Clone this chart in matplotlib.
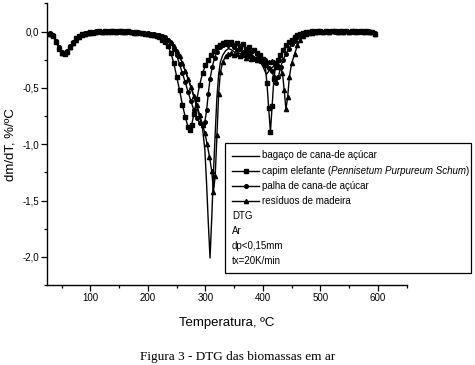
import matplotlib
matplotlib.use('Agg')
import matplotlib.pyplot as plt
from matplotlib.lines import Line2D
from matplotlib.patches import Rectangle
from matplotlib.ticker import MultipleLocator, FuncFormatter

plt.rcParams['font.family'] = ['Liberation Sans', 'DejaVu Sans']

# temperature grids shared by the flat parts of the curves (ºC)
t_start = [30, 35, 40, 45, 50, 55, 60, 65, 70, 75, 80, 85, 90, 95, 100, 105, 110, 115, 120,
           125, 130, 135, 140, 145, 150, 155, 160, 165, 170, 175, 180, 185, 190, 195, 200,
           205, 210, 215]
t_tail = [480, 485, 490, 495, 500, 505, 510, 515, 520, 525, 530, 535, 540, 545, 550, 555,
          560, 565, 570, 575, 580, 585, 590, 595]

# bagaço de cana-de açúcar
bagaco_start = [-0.01, -0.03, -0.07, -0.13, -0.18, -0.19, -0.17, -0.13, -0.10, -0.07, -0.04,
                -0.03, -0.02, -0.01, -0.01, 0.00, 0.00, 0.00, 0.01, 0.00, 0.01, 0.01, 0.00,
                0.01, 0.01, 0.00, 0.01, 0.00, 0.00, 0.00, 0.00, -0.01, -0.01, -0.01, -0.02,
                -0.02, -0.02, -0.03]
bagaco_mid_t = [220, 225, 230, 235, 240, 245, 250, 255, 260, 265, 270, 275, 280, 285, 290,
                295, 299, 302, 305, 308, 311, 314, 317, 320, 323, 326, 330, 335, 340, 345,
                350, 355, 360, 365, 370, 375, 380, 385, 390, 395, 400, 406, 412, 418, 424,
                430, 435, 440, 445, 450, 455, 460, 465, 470, 475]
bagaco_mid = [-0.03, -0.04, -0.05, -0.07, -0.09, -0.13, -0.17, -0.22, -0.28, -0.35, -0.42,
              -0.50, -0.58, -0.67, -0.76, -0.86, -1.05, -1.35, -1.70, -2.01, -1.65, -1.25,
              -0.90, -0.58, -0.38, -0.27, -0.21, -0.17, -0.15, -0.16, -0.18, -0.20, -0.19,
              -0.21, -0.20, -0.22, -0.21, -0.23, -0.24, -0.27, -0.31, -0.38, -0.34, -0.31,
              -0.27, -0.22, -0.18, -0.14, -0.11, -0.08, -0.06, -0.04, -0.03, -0.02, -0.01]
bagaco_tail = [0.00, 0.00, 0.01, 0.00, 0.01, 0.00, 0.01, 0.01, 0.00, 0.01, 0.00, 0.01, 0.01,
               0.00, 0.01, 0.00, 0.01, 0.00, 0.01, 0.00, 0.00, 0.01, 0.00, -0.01]

# capim elefante
capim_start = [-0.02, -0.04, -0.09, -0.15, -0.19, -0.20, -0.18, -0.14, -0.10, -0.06, -0.04,
               -0.02, -0.02, -0.01, 0.00, -0.01, 0.00, 0.01, 0.00, 0.01, 0.00, 0.01, 0.01,
               0.00, 0.01, 0.01, 0.00, 0.01, 0.00, -0.01, 0.00, -0.01, -0.01, -0.02, -0.02,
               -0.03, -0.03, -0.04]
capim_mid_t = [220, 225, 230, 235, 240, 245, 250, 255, 260, 265, 270, 273, 276, 280, 285,
               290, 295, 300, 305, 310, 315, 320, 325, 330, 335, 340, 345, 350, 355, 360,
               365, 370, 375, 380, 385, 390, 395, 400, 404, 407, 410, 413, 416, 419, 422,
               426, 430, 435, 440, 445, 450, 455, 460, 465, 470, 475]
capim_mid = [-0.05, -0.07, -0.09, -0.13, -0.19, -0.28, -0.40, -0.52, -0.65, -0.76, -0.85,
             -0.87, -0.83, -0.73, -0.60, -0.47, -0.37, -0.30, -0.25, -0.21, -0.17, -0.14,
             -0.12, -0.10, -0.09, -0.10, -0.09, -0.12, -0.10, -0.13, -0.11, -0.15, -0.14,
             -0.17, -0.16, -0.19, -0.21, -0.24, -0.30, -0.46, -0.68, -0.89, -0.66, -0.42,
             -0.31, -0.25, -0.21, -0.16, -0.12, -0.09, -0.07, -0.05, -0.03, -0.02, -0.01,
             0.00]
capim_tail = [0.00, 0.01, 0.00, 0.01, 0.01, 0.00, 0.01, 0.00, 0.01, 0.01, 0.00, 0.01, 0.00,
              0.01, 0.00, 0.01, 0.01, 0.00, 0.01, 0.00, 0.01, 0.00, 0.00, -0.02]

# palha de cana-de açúcar
palha_start = [-0.01, -0.03, -0.08, -0.14, -0.18, -0.20, -0.17, -0.13, -0.09, -0.06, -0.04,
               -0.03, -0.01, -0.01, 0.00, 0.00, 0.01, 0.00, 0.00, 0.01, 0.01, 0.00, 0.01,
               0.01, 0.00, 0.01, 0.01, 0.00, 0.00, 0.00, -0.01, -0.01, -0.01, -0.02, -0.01,
               -0.02, -0.02, -0.03]
palha_mid_t = [220, 225, 230, 235, 240, 245, 250, 255, 260, 265, 270, 275, 280, 285, 290,
               295, 299, 302, 305, 308, 312, 316, 320, 325, 330, 335, 340, 345, 350, 355,
               360, 365, 370, 375, 380, 385, 390, 395, 400, 405, 410, 415, 419, 423, 427,
               431, 435, 440, 445, 450, 455, 460, 465, 470, 475]
palha_mid = [-0.03, -0.04, -0.05, -0.07, -0.10, -0.15, -0.21, -0.29, -0.37, -0.45, -0.54,
             -0.62, -0.70, -0.77, -0.81, -0.83, -0.80, -0.70, -0.55, -0.42, -0.31, -0.23,
             -0.18, -0.14, -0.12, -0.11, -0.12, -0.11, -0.14, -0.16, -0.15, -0.18, -0.20,
             -0.19, -0.22, -0.24, -0.23, -0.26, -0.27, -0.29, -0.32, -0.35, -0.40, -0.46,
             -0.40, -0.31, -0.25, -0.20, -0.15, -0.11, -0.08, -0.05, -0.03, -0.02, -0.01]
palha_tail = [0.00, 0.01, 0.01, 0.00, 0.01, 0.00, 0.00, 0.01, 0.01, 0.00, 0.01, 0.00, 0.01,
              0.01, 0.00, 0.00, 0.01, 0.01, 0.00, 0.01, 0.00, 0.01, 0.00, -0.01]

# resíduos de madeira
residuos_start = [-0.02, -0.03, -0.08, -0.14, -0.19, -0.19, -0.17, -0.14, -0.10, -0.07, -0.05,
                  -0.03, -0.02, -0.01, -0.01, 0.00, 0.00, 0.01, 0.00, 0.00, 0.01, 0.00, 0.01,
                  0.00, 0.01, 0.00, 0.00, 0.01, 0.00, 0.00, -0.01, 0.00, -0.01, -0.01, -0.02,
                  -0.02, -0.03, -0.03]
residuos_mid_t = [220, 225, 230, 235, 240, 245, 250, 255, 260, 265, 270, 275, 280, 285, 290,
                  295, 299, 303, 307, 311, 314, 317, 320, 323, 326, 330, 335, 340, 345, 350,
                  355, 360, 365, 370, 375, 380, 385, 390, 395, 400, 405, 410, 415, 420, 425,
                  430, 434, 437, 440, 443, 446, 450, 455, 460, 465, 470, 475]
residuos_mid = [-0.03, -0.04, -0.05, -0.07, -0.09, -0.13, -0.17, -0.22, -0.28, -0.35, -0.42,
                -0.49, -0.57, -0.65, -0.74, -0.83, -0.90, -1.00, -1.11, -1.24, -1.42, -1.28,
                -0.92, -0.55, -0.36, -0.27, -0.22, -0.20, -0.19, -0.21, -0.20, -0.22, -0.21,
                -0.23, -0.22, -0.24, -0.23, -0.25, -0.24, -0.26, -0.25, -0.27, -0.26, -0.27,
                -0.28, -0.31, -0.37, -0.52, -0.69, -0.58, -0.40, -0.28, -0.20, -0.12, -0.07,
                -0.04, -0.02]
residuos_tail = [-0.01, -0.01, 0.00, 0.00, 0.01, 0.00, 0.01, 0.00, 0.01, 0.01, 0.00, 0.01,
                 0.00, 0.01, 0.00, 0.01, 0.00, 0.01, 0.01, 0.00, 0.01, 0.00, 0.00, -0.02]

labels = ['bagaço de cana-de açúcar',
          'capim elefante (',
          'palha de cana-de açúcar',
          'resíduos de madeira']
conditions = ['DTG', 'Ar', 'dp<0,15mm', 'tx=20K/min']

W, H = 475, 365
fig = plt.figure(figsize=(W / 100, H / 100), dpi=100)
ax = fig.add_axes([47.3 / W, 1 - 285 / H, (406.7 - 47.3) / W, (285 - 3.5) / H])

styles = [
    (bagaco_start, bagaco_mid_t, bagaco_mid, bagaco_tail, dict(marker='None')),
    (capim_start, capim_mid_t, capim_mid, capim_tail, dict(marker='s', ms=2.6)),
    (palha_start, palha_mid_t, palha_mid, palha_tail, dict(marker='o', ms=2.6)),
    (residuos_start, residuos_mid_t, residuos_mid, residuos_tail, dict(marker='^', ms=3.0)),
]
for start, mid_t, mid, tail, st in styles:
    ax.plot(t_start + mid_t + t_tail, start + mid + tail, color='black', lw=1.0,
            mec='black', mfc='black', **st)

ax.set_xlim(25, 650)
ax.set_ylim(-2.25, 0.25)
ax.xaxis.set_major_locator(MultipleLocator(100))
ax.xaxis.set_minor_locator(MultipleLocator(50))
ax.yaxis.set_major_locator(MultipleLocator(0.5))
ax.yaxis.set_minor_locator(MultipleLocator(0.25))
ax.yaxis.set_major_formatter(FuncFormatter(lambda v, p: ('%.1f' % v).replace('.', ',')))
ax.xaxis.set_major_formatter(FuncFormatter(lambda v, p: '%d' % v))
for s in ['top', 'right']:
    ax.spines[s].set_visible(False)
for s in ['left', 'bottom']:
    ax.spines[s].set_linewidth(1.0)
ax.tick_params(which='major', direction='out', length=4, width=0.9, labelsize=7, pad=2)
ax.tick_params(which='minor', direction='out', length=2.5, width=0.9)
ax.set_xlabel('Temperatura, ºC', fontsize=9.5)
ax.xaxis.set_label_coords(0.5, -0.115)
ax.set_ylabel('dm/dT, %/ºC', fontsize=9.5)
ax.yaxis.set_label_coords(-0.085, 0.5)

# legend box drawn in figure pixels
box_l, box_r, box_t, box_b = 225, 471, 142.5, 272.5
fig.patches.append(Rectangle((box_l / W, 1 - box_b / H), (box_r - box_l) / W, (box_b - box_t) / H,
                             transform=fig.transFigure, fill=False, ec='black', lw=0.9))
row_y = [155.5, 171, 186.5, 201, 216.5, 231, 246, 261]
for i, (lab, (_, _, _, _, st)) in enumerate(zip(labels, styles)):
    y = 1 - row_y[i] / H
    fig.lines.append(Line2D([232 / W, 245.5 / W, 259 / W], [y, y, y], transform=fig.transFigure,
                            color='black', lw=1.0, markevery=[1], mfc='black', mec='black', **st))
    if i == 1:
        t = fig.text(262 / W, y, lab, fontsize=7, va='center')
        fig.canvas.draw()
        bb = t.get_window_extent()
        t2 = fig.text(bb.x1 / W, y, 'Pennisetum Purpureum Schum', fontsize=7, va='center',
                      style='italic')
        bb2 = t2.get_window_extent()
        fig.text(bb2.x1 / W, y, ')', fontsize=7, va='center')
    else:
        fig.text(262 / W, y, lab, fontsize=7, va='center')
for j, c in enumerate(conditions):
    fig.text(232 / W, 1 - row_y[4 + j] / H, c, fontsize=7, va='center')

fig.text(0.5, 1 - 357 / H, 'Figura 3 - DTG das biomassas em ar', fontsize=9.5,
         family=['Liberation Serif', 'DejaVu Serif'], ha='center', va='center')

fig.savefig('out.png', dpi=100)
